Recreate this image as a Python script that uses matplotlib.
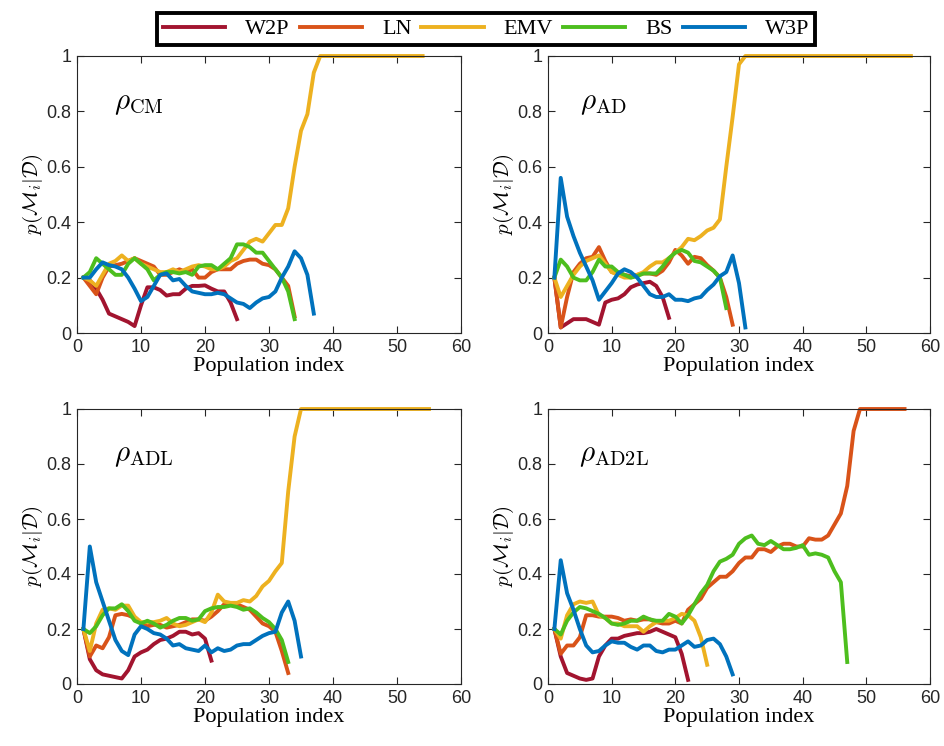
import numpy as np
import matplotlib
matplotlib.use('Agg')
import matplotlib.pyplot as plt

# Kolory serii (styl MATLAB)
names = ['W2P', 'LN', 'EMV', 'BS', 'W3P']
colors = ['#A2142F', '#D95319', '#EDB120', '#4DBE1E', '#0072BD']

# Panel 1: rho_CM
cm_w2p = [0.2, 0.19, 0.16, 0.12, 0.07, 0.06, 0.05, 0.04, 0.025, 0.1, 0.165, 0.165, 0.155, 0.135, 0.14,
          0.14, 0.16, 0.17, 0.17, 0.172, 0.16, 0.15, 0.15, 0.11, 0.05]
cm_ln = [0.2, 0.17, 0.14, 0.2, 0.24, 0.245, 0.25, 0.26, 0.27, 0.26, 0.25, 0.24, 0.21, 0.21, 0.22, 0.23,
         0.22, 0.23, 0.2, 0.2, 0.22, 0.23, 0.23, 0.23, 0.25, 0.26, 0.265, 0.265, 0.25, 0.245, 0.23, 0.2,
         0.17, 0.06]
cm_emv = [0.2, 0.19, 0.17, 0.21, 0.25, 0.26, 0.28, 0.26, 0.27, 0.25, 0.24, 0.23, 0.22, 0.22, 0.23, 0.22,
          0.23, 0.24, 0.245, 0.24, 0.23, 0.23, 0.24, 0.26, 0.27, 0.3, 0.33, 0.34, 0.33, 0.36, 0.39, 0.39,
          0.45, 0.6, 0.73, 0.79, 0.94] + [1.0] * 17
cm_bs = [0.2, 0.22, 0.27, 0.25, 0.23, 0.21, 0.21, 0.25, 0.27, 0.25, 0.23, 0.19, 0.21, 0.22, 0.22, 0.215,
         0.22, 0.21, 0.24, 0.245, 0.245, 0.23, 0.25, 0.27, 0.32, 0.32, 0.31, 0.29, 0.29, 0.26, 0.23, 0.2,
         0.15, 0.05]
cm_w3p = [0.2, 0.2, 0.23, 0.255, 0.245, 0.24, 0.23, 0.2, 0.16, 0.115, 0.13, 0.17, 0.21, 0.215, 0.19, 0.195,
          0.17, 0.15, 0.145, 0.14, 0.14, 0.145, 0.14, 0.125, 0.11, 0.105, 0.09, 0.11, 0.125, 0.13, 0.15,
          0.2, 0.24, 0.295, 0.27, 0.21, 0.07]

# Panel 2: rho_AD
ad_w2p = [0.2, 0.02, 0.035, 0.05, 0.05, 0.05, 0.04, 0.03, 0.11, 0.12, 0.125, 0.14, 0.165, 0.175, 0.18,
          0.185, 0.17, 0.13, 0.055]
ad_ln = [0.2, 0.02, 0.13, 0.22, 0.25, 0.27, 0.275, 0.31, 0.26, 0.22, 0.215, 0.21, 0.205, 0.21, 0.215,
         0.215, 0.21, 0.225, 0.255, 0.3, 0.28, 0.25, 0.275, 0.27, 0.245, 0.225, 0.2, 0.13, 0.03]
ad_emv = [0.2, 0.13, 0.17, 0.21, 0.24, 0.26, 0.27, 0.28, 0.25, 0.22, 0.21, 0.2, 0.2, 0.21, 0.22, 0.24,
          0.255, 0.255, 0.27, 0.29, 0.31, 0.34, 0.335, 0.35, 0.37, 0.38, 0.41, 0.6, 0.78, 0.97] + [1.0] * 27
ad_bs = [0.2, 0.265, 0.24, 0.2, 0.19, 0.19, 0.22, 0.265, 0.24, 0.24, 0.22, 0.21, 0.2, 0.205, 0.215, 0.215,
         0.215, 0.24, 0.27, 0.29, 0.3, 0.29, 0.26, 0.255, 0.24, 0.225, 0.2, 0.09]
ad_w3p = [0.2, 0.56, 0.42, 0.35, 0.29, 0.24, 0.19, 0.12, 0.15, 0.18, 0.215, 0.23, 0.22, 0.2, 0.17, 0.14,
          0.13, 0.13, 0.14, 0.12, 0.12, 0.115, 0.125, 0.13, 0.155, 0.175, 0.205, 0.22, 0.28, 0.18, 0.02]

# Panel 3: rho_ADL
adl_w2p = [0.2, 0.09, 0.05, 0.035, 0.03, 0.025, 0.02, 0.05, 0.1, 0.115, 0.125, 0.145, 0.16, 0.165, 0.175,
           0.19, 0.19, 0.18, 0.185, 0.165, 0.085]
adl_ln = [0.2, 0.1, 0.14, 0.13, 0.17, 0.25, 0.255, 0.25, 0.24, 0.22, 0.21, 0.215, 0.215, 0.205, 0.21,
          0.215, 0.225, 0.235, 0.235, 0.23, 0.245, 0.265, 0.29, 0.29, 0.29, 0.28, 0.27, 0.245, 0.22, 0.21,
          0.19, 0.12, 0.04]
adl_emv = [0.2, 0.12, 0.22, 0.27, 0.275, 0.27, 0.285, 0.285, 0.245, 0.225, 0.225, 0.225, 0.23, 0.24,
           0.22, 0.21, 0.215, 0.225, 0.235, 0.225, 0.26, 0.325, 0.3, 0.295, 0.295, 0.305, 0.3, 0.32, 0.355,
           0.375, 0.41, 0.44, 0.7, 0.9] + [1.0] * 21
adl_bs = [0.2, 0.185, 0.21, 0.25, 0.275, 0.275, 0.29, 0.265, 0.23, 0.22, 0.23, 0.22, 0.205, 0.215, 0.23,
          0.24, 0.24, 0.23, 0.235, 0.265, 0.275, 0.28, 0.28, 0.285, 0.28, 0.27, 0.275, 0.26, 0.24, 0.225,
          0.2, 0.16, 0.08]
adl_w3p = [0.2, 0.5, 0.37, 0.3, 0.23, 0.16, 0.12, 0.105, 0.18, 0.21, 0.2, 0.185, 0.18, 0.165, 0.14, 0.145,
           0.13, 0.125, 0.12, 0.14, 0.115, 0.13, 0.12, 0.125, 0.14, 0.145, 0.145, 0.16, 0.175, 0.185, 0.19,
           0.26, 0.3, 0.23, 0.1]

# Panel 4: rho_AD2L
ad2l_w2p = [0.2, 0.1, 0.04, 0.03, 0.02, 0.015, 0.02, 0.1, 0.14, 0.165, 0.165, 0.175, 0.18, 0.185, 0.185,
            0.19, 0.2, 0.19, 0.18, 0.17, 0.11, 0.015]
ad2l_ln = [0.2, 0.11, 0.14, 0.14, 0.17, 0.25, 0.25, 0.245, 0.245, 0.245, 0.24, 0.23, 0.235, 0.23, 0.235,
           0.235, 0.225, 0.22, 0.22, 0.23, 0.22, 0.27, 0.29, 0.31, 0.35, 0.37, 0.39, 0.39, 0.41, 0.44,
           0.46, 0.46, 0.49, 0.49, 0.48, 0.5, 0.51, 0.51, 0.5, 0.5, 0.53, 0.525, 0.525, 0.54, 0.58, 0.62,
           0.72, 0.92] + [1.0] * 8
ad2l_emv = [0.2, 0.165, 0.25, 0.29, 0.3, 0.295, 0.3, 0.25, 0.24, 0.22, 0.22, 0.21, 0.21, 0.21, 0.19, 0.21,
            0.225, 0.23, 0.23, 0.24, 0.255, 0.25, 0.23, 0.17, 0.07]
ad2l_bs = [0.2, 0.18, 0.23, 0.26, 0.28, 0.275, 0.265, 0.255, 0.24, 0.22, 0.215, 0.22, 0.23, 0.23, 0.245,
           0.235, 0.23, 0.23, 0.255, 0.245, 0.22, 0.25, 0.29, 0.33, 0.36, 0.41, 0.445, 0.455, 0.47, 0.51,
           0.53, 0.54, 0.51, 0.505, 0.52, 0.505, 0.49, 0.49, 0.495, 0.505, 0.47, 0.475, 0.47, 0.46, 0.41,
           0.37, 0.08]
ad2l_w3p = [0.2, 0.45, 0.33, 0.27, 0.2, 0.14, 0.115, 0.12, 0.14, 0.155, 0.15, 0.15, 0.135, 0.125, 0.14,
            0.14, 0.12, 0.115, 0.125, 0.125, 0.14, 0.155, 0.135, 0.14, 0.16, 0.165, 0.145, 0.1, 0.035]

panels = [
    (r'$\rho_{\mathrm{CM}}$', [cm_w2p, cm_ln, cm_emv, cm_bs, cm_w3p]),
    (r'$\rho_{\mathrm{AD}}$', [ad_w2p, ad_ln, ad_emv, ad_bs, ad_w3p]),
    (r'$\rho_{\mathrm{ADL}}$', [adl_w2p, adl_ln, adl_emv, adl_bs, adl_w3p]),
    (r'$\rho_{\mathrm{AD2L}}$', [ad2l_w2p, ad2l_ln, ad2l_emv, ad2l_bs, ad2l_w3p]),
]
label_x = [5.8, 5.0, 5.8, 4.8]

plt.rcParams['mathtext.fontset'] = 'cm'
plt.rcParams['font.family'] = 'Liberation Sans'

W, H = 944, 746
fig = plt.figure(figsize=(W / 100, H / 100), dpi=100)

# Pozycje osi w pikselach: (lewo, góra, prawo, dół)
boxes = [(77, 56, 461, 333), (548, 56, 930, 333), (77, 409, 461, 684), (548, 409, 930, 684)]

serif = 'Liberation Serif'
handles = []
for k, ((label, series), (l, t, r, b)) in enumerate(zip(panels, boxes)):
    ax = fig.add_axes([l / W, 1 - b / H, (r - l) / W, (b - t) / H])
    handles = []
    for i in range(5):
        y = series[i]
        x = np.arange(1, len(y) + 1)
        ln, = ax.plot(x, y, color=colors[i], lw=2.8, label=names[i], clip_on=False)
        handles.append(ln)
    ax.set_xlim(0, 60)
    ax.set_ylim(0, 1)
    ax.set_xticks(range(0, 61, 10))
    ax.set_yticks([0, 0.2, 0.4, 0.6, 0.8, 1])
    ax.set_yticklabels(['0', '0.2', '0.4', '0.6', '0.8', '1'])
    ax.tick_params(direction='in', top=True, right=True, labelsize=13, length=5,
                   width=0.8, color='#262626', labelcolor='#262626', pad=4)
    for s in ax.spines.values():
        s.set_color('#262626')
        s.set_linewidth(0.8)
    ax.set_xlabel('Population index', fontsize=16, family=serif, labelpad=1)
    ax.set_ylabel(r'$p(\mathcal{M}_i|\mathcal{D})$', fontsize=15, labelpad=1)
    ax.text(label_x[k], 0.78, label, fontsize=21, va='bottom', ha='left')

leg = fig.legend(handles, names, loc='upper center', bbox_to_anchor=(0.515, 0.997), ncol=5,
                 fancybox=False, edgecolor='black', framealpha=1, handlelength=2.8,
                 columnspacing=0.45, handletextpad=0.9, borderpad=0.25,
                 prop={'family': serif, 'size': 16})
leg.get_frame().set_linewidth(2.8)

fig.savefig('out.png', dpi=100)
